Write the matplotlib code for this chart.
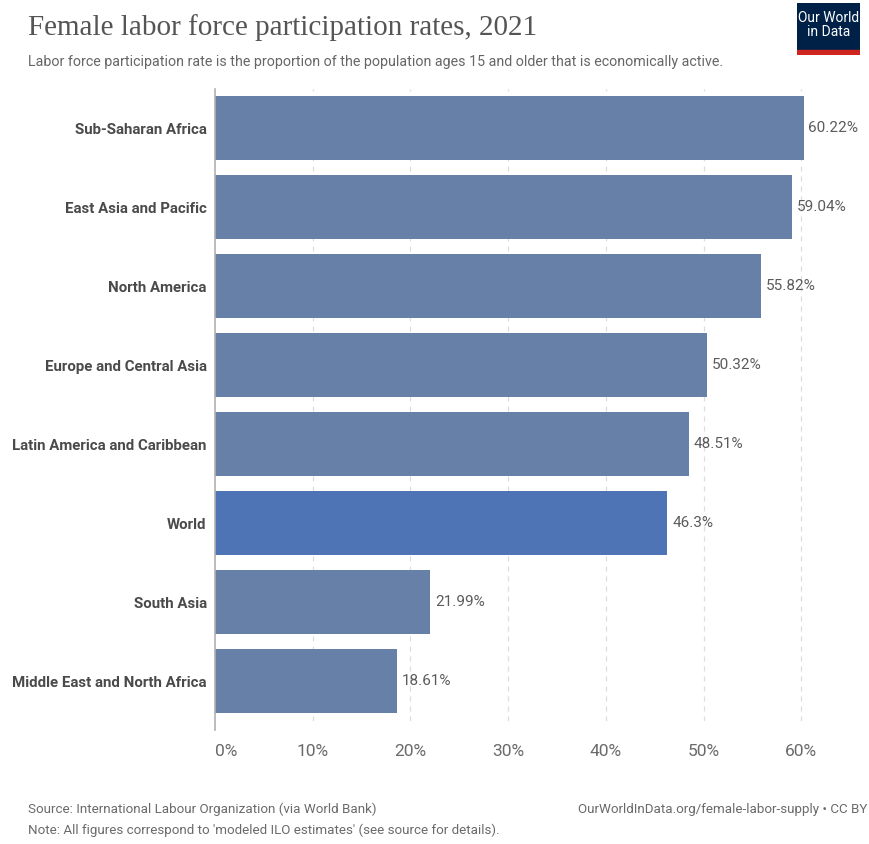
import matplotlib.pyplot as plt
from matplotlib.patches import Rectangle

regions = ['Sub-Saharan Africa', 'East Asia and Pacific', 'North America',
           'Europe and Central Asia', 'Latin America and Caribbean', 'World',
           'South Asia', 'Middle East and North Africa']
rates = [60.22, 59.04, 55.82, 50.32, 48.51, 46.3, 21.99, 18.61]
value_labels = ['60.22%', '59.04%', '55.82%', '50.32%', '48.51%', '46.3%', '21.99%', '18.61%']
xticks = [0, 10, 20, 30, 40, 50, 60]
xtick_labels = ['0%', '10%', '20%', '30%', '40%', '50%', '60%']

plt.rcParams['font.family'] = ['Roboto', 'DejaVu Sans']

fig = plt.figure(figsize=(8.7, 8.44), dpi=100)
ax = fig.add_axes([0.2471, 0.1463, 0.7414, 0.7488])

ypos = list(range(len(regions)))
colors = ['#4f74b5' if r == 'World' else '#6780a8' for r in regions]
ax.barh(ypos, rates, height=0.81, color=colors, edgecolor='none', zorder=2)

for y, v, lab in zip(ypos, rates, value_labels):
    ax.text(v + 0.5, y, lab, va='center', ha='left', fontsize=11, color='#5b5b5b')

ax.set_ylim(len(regions) - 0.5, -0.5)
ax.set_xlim(0, 66)
ax.set_yticks(ypos)
ax.set_yticklabels(regions, fontsize=10.8, color='#4a4a4a', fontweight='bold')
ax.set_xticks(xticks)
ax.set_xticklabels(xtick_labels, fontsize=12.5, color='#6a6a6a')
ax.get_xticklabels()[0].set_ha('left')
ax.tick_params(axis='y', length=0, pad=6)
ax.tick_params(axis='x', length=0, pad=17)

for x in xticks[1:]:
    ax.axvline(x, color='#dddddd', linestyle=(0, (4, 4)), linewidth=0.9, zorder=1)
ax.axvline(0, ymin=-0.015, ymax=1, color='#b0b0b0', linewidth=1.2, zorder=3, clip_on=False)

for s in ax.spines.values():
    s.set_visible(False)

fig.text(0.032, 0.983, 'Female labor force participation rates, 2021',
         family=['Liberation Serif', 'DejaVu Serif'], fontsize=21, color='#555555', va='top')
fig.text(0.032, 0.926, 'Labor force participation rate is the proportion of the population ages 15 and older that is economically active.',
         fontsize=10.3, color='#666666', va='center')

# logo
logo_ax = fig.add_axes([0.916, 0.935, 0.073, 0.062])
logo_ax.set_xlim(0, 1)
logo_ax.set_ylim(0, 1)
logo_ax.axis('off')
logo_ax.add_patch(Rectangle((0, 0.1), 1, 0.9, color='#002147'))
logo_ax.add_patch(Rectangle((0, 0), 1, 0.1, color='#ce261e'))
logo_ax.text(0.5, 0.57, 'Our World\nin Data', ha='center', va='center',
             color='white', fontsize=10, linespacing=1.05)

fig.text(0.032, 0.041, 'Source: International Labour Organization (via World Bank)',
         fontsize=9.6, color='#6a6a6a', va='center')
fig.text(0.032, 0.016, "Note: All figures correspond to 'modeled ILO estimates' (see source for details).",
         fontsize=9.6, color='#6a6a6a', va='center')
fig.text(0.997, 0.041, 'OurWorldInData.org/female-labor-supply • CC BY',
         fontsize=9.6, color='#6a6a6a', va='center', ha='right')

plt.savefig('out.png', dpi=100)
plt.close()
